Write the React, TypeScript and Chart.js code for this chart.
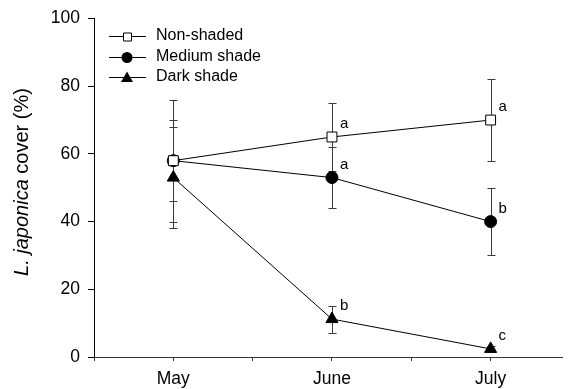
import React, { useEffect, useRef } from 'react';
import { Chart, registerables } from 'chart.js';

Chart.register(...registerables);

const months = ['May', 'June', 'July'];
const monthPositions = [1, 3, 5];
const seriesNames = ['Non-shaded', 'Medium shade', 'Dark shade'];
const nonShaded = [58, 65, 70];
const nonShadedErr = [18, 10, 12];
const mediumShade = [58, 53, 40];
const mediumShadeErr = [12, 9, 10];
const darkShade = [53, 11.2, 2.4];
const darkShadeErr = [15, 4, 0.8];
const nonShadedLetters = ['', 'a', 'a'];
const mediumLetters = ['', 'a', 'b'];
const darkLetters = ['', 'b', 'c'];

const FONT = '"Liberation Sans", Arial, sans-serif';

const errors = [nonShadedErr, mediumShadeErr, darkShadeErr];
const letters = [nonShadedLetters, mediumLetters, darkLetters];

const errorBarPlugin = {
  id: 'errorBars',
  beforeDatasetsDraw(chart: any) {
    const { ctx, scales } = chart;
    const xs = scales.x;
    const ys = scales.y;
    ctx.save();
    ctx.strokeStyle = '#3a3a3a';
    ctx.lineWidth = 1;
    chart.data.datasets.forEach((ds: any, i: number) => {
      ds.data.forEach((p: any, j: number) => {
        const e = errors[i][j];
        const x = Math.round(xs.getPixelForValue(p.x)) + 0.5;
        const yt = Math.round(ys.getPixelForValue(p.y + e)) + 0.5;
        const yb = Math.round(ys.getPixelForValue(p.y - e)) + 0.5;
        ctx.beginPath();
        ctx.moveTo(x, yt);
        ctx.lineTo(x, yb);
        ctx.moveTo(x - 4, yt);
        ctx.lineTo(x + 4, yt);
        ctx.moveTo(x - 4, yb);
        ctx.lineTo(x + 4, yb);
        ctx.stroke();
      });
    });
    ctx.restore();
  },
};

const lettersPlugin = {
  id: 'letters',
  afterDatasetsDraw(chart: any) {
    const { ctx, scales } = chart;
    ctx.save();
    ctx.fillStyle = '#000';
    ctx.font = `15px ${FONT}`;
    ctx.textAlign = 'left';
    ctx.textBaseline = 'middle';
    chart.data.datasets.forEach((ds: any, i: number) => {
      ds.data.forEach((p: any, j: number) => {
        const t = letters[i][j];
        if (!t) return;
        const x = scales.x.getPixelForValue(p.x);
        const y = scales.y.getPixelForValue(p.y);
        ctx.fillText(t, x + 8, y - 13);
      });
    });
    ctx.restore();
  },
};

const legendPlugin = {
  id: 'customLegend',
  afterDraw(chart: any) {
    const { ctx } = chart;
    const rows = [36, 57, 77];
    ctx.save();
    ctx.font = `16px ${FONT}`;
    ctx.textBaseline = 'middle';
    ctx.textAlign = 'left';
    seriesNames.forEach((name, i) => {
      const y = rows[i];
      ctx.strokeStyle = '#000';
      ctx.lineWidth = 1;
      ctx.beginPath();
      ctx.moveTo(109, y + 0.5);
      ctx.lineTo(146, y + 0.5);
      ctx.stroke();
      const cx = 127;
      ctx.beginPath();
      if (i === 0) {
        ctx.fillStyle = '#fff';
        ctx.rect(cx - 3.5, y - 3, 8, 8);
        ctx.fill();
        ctx.strokeStyle = '#000';
        ctx.stroke();
      } else if (i === 1) {
        ctx.fillStyle = '#000';
        ctx.arc(cx, y + 0.5, 5.5, 0, Math.PI * 2);
        ctx.fill();
      } else {
        ctx.fillStyle = '#000';
        ctx.moveTo(cx, y - 5.5);
        ctx.lineTo(cx + 6, y + 5);
        ctx.lineTo(cx - 6, y + 5);
        ctx.closePath();
        ctx.fill();
      }
      ctx.fillStyle = '#000';
      ctx.fillText(name, 156, y);
    });
    ctx.restore();
  },
};

const yTitlePlugin = {
  id: 'yTitle',
  afterDraw(chart: any) {
    const { ctx } = chart;
    const part1 = 'L. japonica';
    const part2 = ' cover (%)';
    ctx.save();
    ctx.translate(22, 182);
    ctx.rotate(-Math.PI / 2);
    ctx.fillStyle = '#000';
    ctx.textBaseline = 'middle';
    ctx.textAlign = 'left';
    ctx.font = `italic 20px ${FONT}`;
    const w1 = ctx.measureText(part1).width;
    ctx.font = `20px ${FONT}`;
    const w2 = ctx.measureText(part2).width;
    const start = -(w1 + w2) / 2;
    ctx.font = `italic 20px ${FONT}`;
    ctx.fillText(part1, start, 0);
    ctx.font = `20px ${FONT}`;
    ctx.fillText(part2, start + w1, 0);
    ctx.restore();
  },
};

function toPoints(vals: number[]) {
  return vals.map((v, i) => ({ x: monthPositions[i], y: v }));
}

export default function App() {
  const ref = useRef<HTMLCanvasElement>(null);
  useEffect(() => {
    if (!ref.current) return;
    const chart = new Chart(ref.current, {
      type: 'scatter',
      data: {
        datasets: [
          {
            label: seriesNames[0],
            data: toPoints(nonShaded),
            showLine: true,
            borderColor: '#000',
            borderWidth: 1,
            pointStyle: 'rect',
            pointRadius: 7,
            pointBackgroundColor: '#fff',
            pointBorderColor: '#000',
            pointBorderWidth: 1,
          },
          {
            label: seriesNames[1],
            data: toPoints(mediumShade),
            showLine: true,
            borderColor: '#000',
            borderWidth: 1,
            pointStyle: 'circle',
            pointRadius: 6,
            pointBackgroundColor: '#000',
            pointBorderColor: '#000',
            pointBorderWidth: 1,
          },
          {
            label: seriesNames[2],
            data: toPoints(darkShade),
            showLine: true,
            borderColor: '#000',
            borderWidth: 1,
            pointStyle: 'triangle',
            pointRadius: 7,
            pointBackgroundColor: '#000',
            pointBorderColor: '#000',
            pointBorderWidth: 1,
          },
        ],
      },
      options: {
        animation: false,
        responsive: false,
        layout: { padding: { top: 18, right: 0, left: 0, bottom: 0 } },
        plugins: { legend: { display: false }, tooltip: { enabled: false } },
        scales: {
          x: {
            type: 'linear',
            min: 0,
            max: 5.9,
            afterFit: (s: any) => {
              s.height = 32;
              s.paddingRight = 0;
              s.paddingLeft = 0;
            },
            ticks: {
              stepSize: 1,
              includeBounds: false,
              autoSkip: false,
              maxRotation: 0,
              padding: 8,
              color: '#000',
              font: { family: FONT, size: 17.5 },
              callback: (v: any) => {
                const idx = monthPositions.indexOf(Number(v));
                return idx >= 0 ? months[idx] : '';
              },
            },
            grid: { drawOnChartArea: false, drawTicks: true, tickLength: 4, color: '#333' },
            border: { color: '#333', width: 1 },
          },
          y: {
            min: 0,
            max: 100,
            afterFit: (s: any) => {
              s.width = 94;
            },
            ticks: {
              stepSize: 20,
              padding: 8,
              color: '#000',
              font: { family: FONT, size: 17.5 },
            },
            grid: { drawOnChartArea: false, drawTicks: true, tickLength: 6, color: '#000' },
            border: { color: '#000', width: 1 },
          },
        },
      },
      plugins: [errorBarPlugin, lettersPlugin, legendPlugin, yTitlePlugin],
    });
    return () => chart.destroy();
  }, []);
  return (
    <div style={{ position: 'absolute', left: 0, top: 0, width: 570, height: 389, background: '#fff' }}>
      <canvas ref={ref} width={570} height={389} />
    </div>
  );
}
